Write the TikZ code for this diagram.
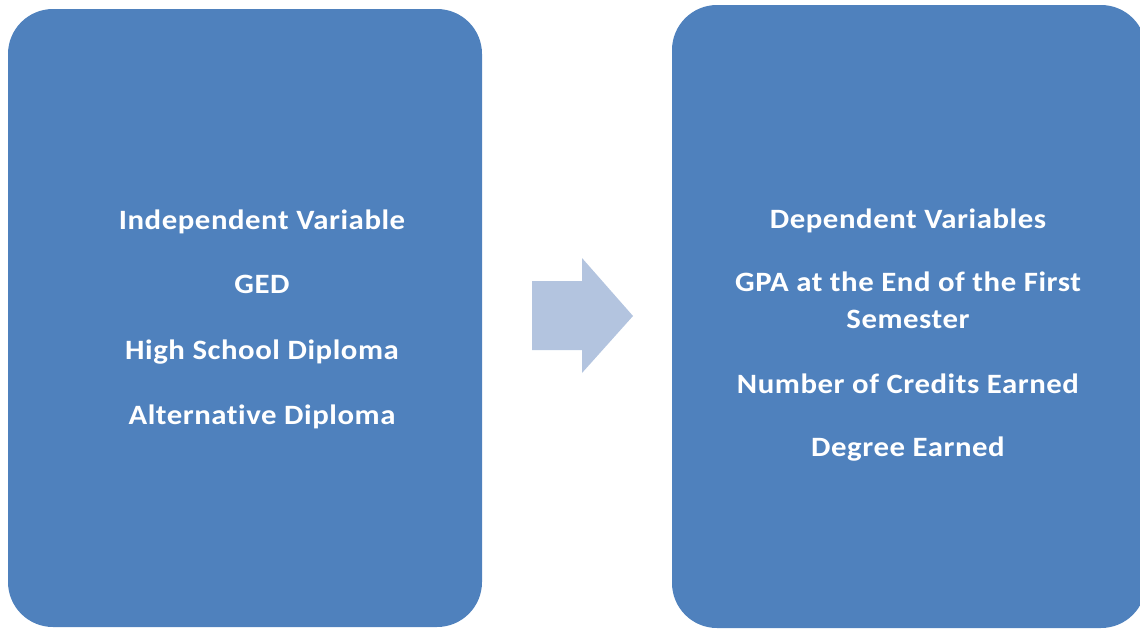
\documentclass[tikz,border=0pt]{standalone}
\usepackage{fontspec}
\setmainfont{Carlito}[FakeStretch=1.1, LetterSpace=2, Ligatures={NoCommon}]
\definecolor{boxblue}{HTML}{4F81BD}
\definecolor{arrowblue}{HTML}{B3C4DF}
\begin{document}
\begin{tikzpicture}[x=1pt,y=-1pt,
  panel/.style={fill=boxblue, rounded corners=45pt},
  lbl/.style={text=white, font=\fontsize{28}{32}\selectfont\bfseries, anchor=base, inner sep=0pt}]
\useasboundingbox (0,0) rectangle (1140,629);
\clip (0,0) rectangle (1140,629);
\fill[panel] (8,9) rectangle (482,627);
\fill[panel] (672,5) rectangle (1146,628);
\fill[arrowblue] (532,281) -- (582,281) -- (582,258) -- (633,316) -- (582,373) -- (582,350) -- (532,350) -- cycle;
\node[lbl] (l1) at (262,229) {Independent Variable};
\node[lbl] (l2) at (262,293) {GED};
\node[lbl] (l3) at (262,359) {High School Diploma};
\node[lbl] (l4) at (262,424) {Alternative Diploma};
\node[lbl] (r1) at (908,228) {Dependent Variables};
\node[lbl] (r2) at (908,291) {GPA at the End of the First};
\node[lbl] (r3) at (908,328) {Semester};
\node[lbl] (r4) at (908,393) {Number of Credits Earned};
\node[lbl] (r5) at (908,456) {Degree Earned};
\end{tikzpicture}
\end{document}
